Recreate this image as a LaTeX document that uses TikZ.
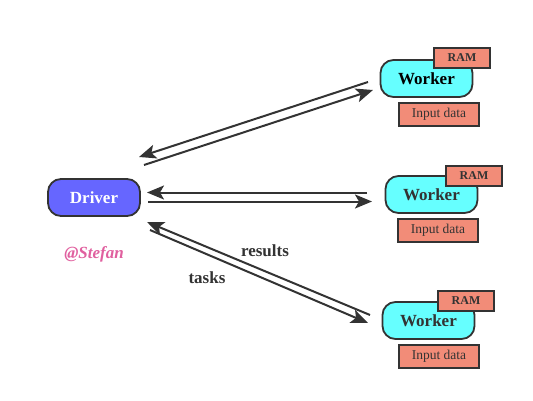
\documentclass[tikz,border=0pt]{standalone}
\usepackage{fontspec}
\setmainfont{Liberation Serif}
\usetikzlibrary{arrows.meta}
\definecolor{drv}{HTML}{6666FF}
\definecolor{wrk}{HTML}{66FFFF}
\definecolor{sal}{HTML}{F28C78}
\definecolor{ln}{HTML}{333333}
\definecolor{pinkish}{HTML}{E0609F}
\tikzset{
  pill/.style={draw=ln, line width=1.8pt, rounded corners=13pt, minimum width=92pt, minimum height=37pt, inner sep=0pt, font=\fontsize{17}{20}\selectfont\bfseries},
  rambox/.style={draw=ln, line width=1.5pt, fill=sal, minimum width=56pt, minimum height=20pt, inner sep=0pt, font=\fontsize{12}{14}\selectfont\bfseries, text=ln},
  databox/.style={draw=ln, line width=1.5pt, fill=sal, minimum width=80pt, minimum height=23pt, inner sep=0pt, font=\fontsize{13.5}{15}\selectfont, text=ln},
  conn/.style={draw=ln, line width=2pt},
  arr/.style={conn, -{Stealth[length=17pt, width=14pt, inset=4pt]}},
  lbl/.style={font=\fontsize{17}{20}\selectfont\bfseries, text=ln}
}
\begin{document}
\begin{tikzpicture}[x=1pt, y=-1pt]
\useasboundingbox (0,0) rectangle (533,401);
% Driver
\node[pill, fill=drv, text=white] (drv) at (94,197.5) {Driver};
\node[font=\fontsize{17}{20}\selectfont\bfseries\itshape, text=pinkish] (sig) at (94,254) {@Stefan};
% Workers
\node[pill, fill=wrk, text=black] (w1) at (426.5,78.5) {Worker};
\node[rambox] (r1) at (462,58) {RAM};
\node[databox] (d1) at (439,114.5) {Input data};
\node[pill, fill=wrk, text=ln] (w2) at (431.5,194.5) {Worker};
\node[rambox] (r2) at (474,176) {RAM};
\node[databox] (d2) at (438,230.5) {Input data};
\node[pill, fill=wrk, text=ln] (w3) at (428.5,320.5) {Worker};
\node[rambox] (r3) at (466,301) {RAM};
\node[databox] (d3) at (439,356.5) {Input data};
% connector endpoints
\coordinate (a1s) at (368,82);
\coordinate (a1e) at (139,157);
\coordinate (b1s) at (144,165);
\coordinate (b1e) at (373,90);
\coordinate (a2s) at (367,192.5);
\coordinate (a2e) at (147,192.5);
\coordinate (b2s) at (148,201.5);
\coordinate (b2e) at (372,201.5);
\coordinate (a3s) at (370,315);
\coordinate (a3e) at (147,222);
\coordinate (b3s) at (150,230);
\coordinate (b3e) at (368,323);
\draw[arr] (a1s) -- (a1e);
\draw[arr] (b1s) -- (b1e);
\draw[arr] (a2s) -- (a2e);
\draw[arr] (b2s) -- (b2e);
\draw[arr] (a3s) -- (a3e);
\draw[arr] (b3s) -- (b3e);
\node[lbl] (res) at (265,251) {results};
\node[lbl] (tsk) at (207,278) {tasks};
\end{tikzpicture}
\end{document}
